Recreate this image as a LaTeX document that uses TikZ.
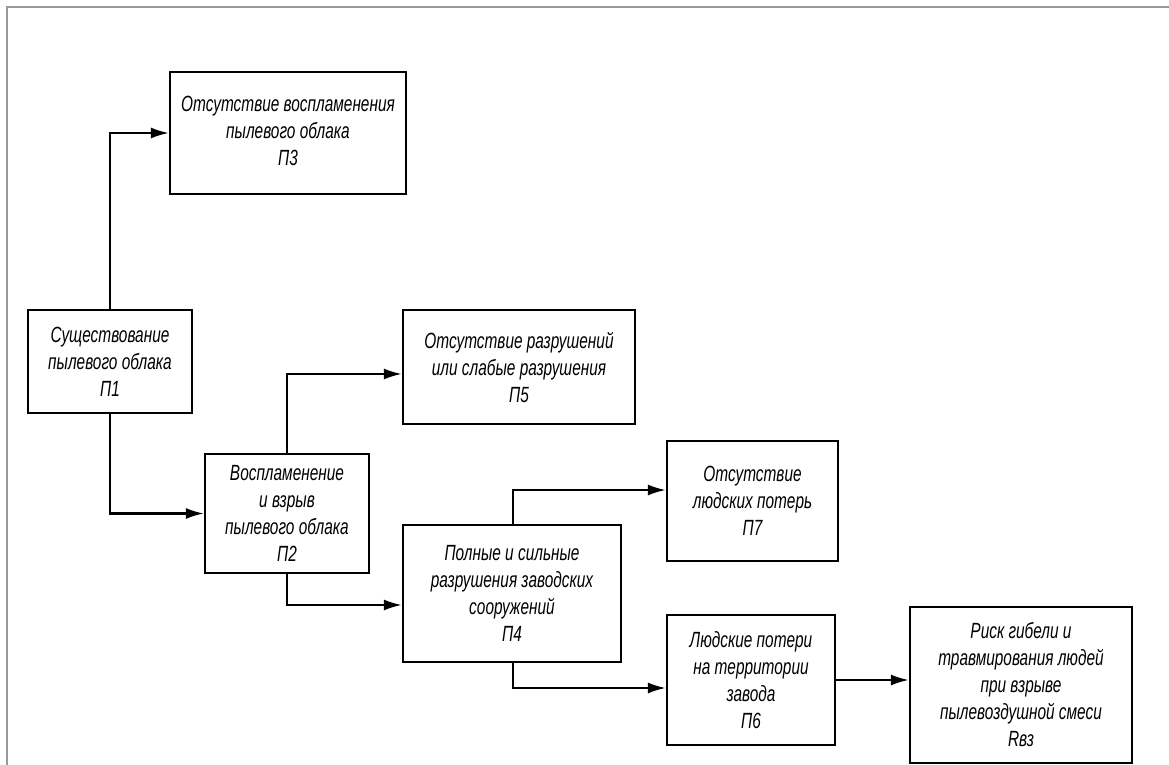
\documentclass[tikz,border=0pt]{standalone}
\usepackage{fontspec}
\newfontfamily\gostfam[FakeStretch=0.7]{Liberation Sans}
\usetikzlibrary{arrows.meta}
\tikzset{
  box/.style={draw, line width=2.2pt, align=center, inner sep=0pt,
    font=\gostfam\itshape\fontsize{22}{27}\selectfont},
  conn/.style={line width=2.2pt, -{Latex[length=18pt,width=11pt]}},
  frameline/.style={draw=black!40, line width=1.5pt}
}
\begin{document}
\begin{tikzpicture}[x=1pt,y=-1pt]
\useasboundingbox (0,0) rectangle (1169,765);
\draw[frameline] (7,765) -- (7,7) -- (1169,7);

\node[box, minimum width=236pt, minimum height=122pt] (p3) at (288,133)
  {\raisebox{6pt}{\begin{tabular}{@{}c@{}}Отсутствие воспламенения\\пылевого облака\\П3\end{tabular}}};
\node[box, minimum width=164pt, minimum height=103pt] (p1) at (110,361.5)
  {Существование\\пылевого облака\\П1};
\node[box, minimum width=164pt, minimum height=119pt] (p2) at (287,513.5)
  {Воспламенение\\и взрыв\\пылевого облака\\П2};
\node[box, minimum width=232pt, minimum height=114pt] (p5) at (519,367)
  {Отсутствие разрушений\\или слабые разрушения\\П5};
\node[box, minimum width=218pt, minimum height=137pt] (p4) at (512,593.5)
  {Полные и сильные\\разрушения заводских\\сооружений\\П4};
\node[box, minimum width=171pt, minimum height=120pt] (p7) at (752.5,501)
  {Отсутствие\\людских потерь\\П7};
\node[box, minimum width=168pt, minimum height=130pt] (p6) at (751,680)
  {Людские потери\\на территории\\завода\\П6};
\node[box, minimum width=222pt, minimum height=156pt] (r) at (1021,685)
  {Риск гибели и\\травмирования людей\\при взрыве\\пылевоздушной смеси\\Rвз};

\draw[conn] (p1.north) |- (p3.west);
\draw[conn] (p1.south) |- (p2.west);
\draw[conn] (p2.north) |- ([yshift=-7pt]p5.west);
\draw[conn] (p2.south) |- ([yshift=-11.5pt]p4.west);
\draw[conn] ([xshift=1pt]p4.north) |- ([yshift=11pt]p7.west);
\draw[conn] ([xshift=1pt]p4.south) |- ([yshift=-8pt]p6.west);
\draw[conn] (p6.east) -- (p6.east -| r.west);
\end{tikzpicture}
\end{document}
